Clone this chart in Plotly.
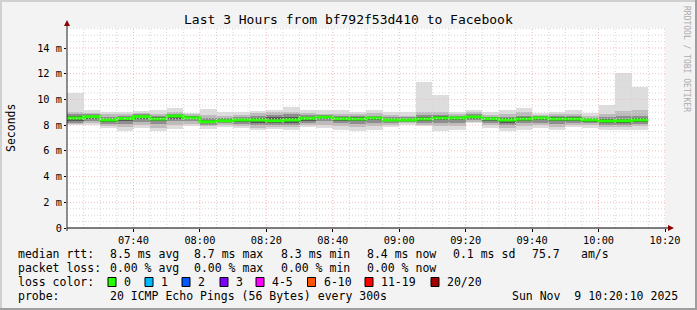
import plotly.graph_objects as go
import pandas as pd

# ---------------- data (ms) ----------------
start_time = "2025-11-09 07:20"
step_minutes = 5
median_rtt = [8.55, 8.65, 8.40, 8.52, 8.66, 8.48, 8.71, 8.58, 8.27, 8.35,
              8.40, 8.40, 8.35, 8.40, 8.53, 8.61, 8.50, 8.48, 8.55, 8.40,
              8.40, 8.48, 8.55, 8.55, 8.63, 8.50, 8.40, 8.48, 8.55, 8.48,
              8.48, 8.40, 8.32, 8.35, 8.40]
ping_max = [10.50, 9.20, 9.05, 9.05, 9.10, 9.20, 9.30, 8.97, 9.26, 9.05,
            9.05, 9.10, 9.20, 9.44, 9.20, 9.20, 9.20, 9.00, 9.15, 9.00,
            9.00, 11.38, 10.34, 9.00, 9.15, 9.00, 9.20, 9.35, 8.92, 9.05,
            9.15, 8.97, 9.57, 12.05, 10.94]
ping_min = [8.00, 8.00, 7.75, 7.55, 7.75, 7.55, 7.70, 7.95, 7.70, 7.85,
            7.75, 7.60, 7.70, 7.60, 7.85, 7.75, 7.60, 7.55, 7.65, 7.85,
            8.00, 7.90, 7.55, 7.60, 8.14, 7.80, 7.55, 7.60, 7.80, 7.60,
            7.85, 7.80, 7.60, 7.60, 7.65]
band2_hi = [9.05, 8.95, 8.85, 8.85, 8.95, 8.90, 9.00, 8.85, 8.80, 8.75,
            8.80, 8.95, 9.00, 9.05, 8.95, 8.90, 8.90, 8.85, 8.95, 8.80,
            8.75, 9.05, 9.00, 8.85, 9.00, 8.80, 8.85, 9.00, 8.80, 8.85,
            8.90, 8.70, 8.90, 9.10, 9.20]
band2_lo = [8.10, 8.15, 7.95, 7.85, 8.00, 7.80, 8.00, 8.10, 7.95, 8.00,
            7.95, 7.80, 7.85, 7.85, 8.00, 8.05, 7.90, 7.85, 7.95, 8.05,
            8.15, 8.05, 7.90, 7.95, 8.25, 8.00, 7.80, 7.90, 8.00, 7.85,
            8.05, 8.00, 7.85, 7.85, 7.90]
band3_hi = [8.85, 8.85, 8.65, 8.70, 8.85, 8.75, 8.85, 8.75, 8.55, 8.55,
            8.60, 8.75, 8.80, 8.85, 8.80, 8.80, 8.70, 8.70, 8.75, 8.60,
            8.60, 8.80, 8.80, 8.70, 8.85, 8.65, 8.65, 8.70, 8.70, 8.70,
            8.70, 8.55, 8.60, 8.75, 8.70]
band3_lo = [8.20, 8.30, 8.10, 8.10, 8.25, 8.10, 8.30, 8.30, 8.05, 8.15,
            8.10, 8.00, 8.00, 8.05, 8.20, 8.30, 8.15, 8.10, 8.20, 8.20,
            8.25, 8.20, 8.15, 8.20, 8.40, 8.20, 8.05, 8.15, 8.20, 8.10,
            8.20, 8.15, 8.05, 8.05, 8.10]
band4_hi = [8.70, 8.75, 8.50, 8.60, 8.75, 8.60, 8.80, 8.68, 8.40, 8.45,
            8.50, 8.55, 8.60, 8.60, 8.65, 8.70, 8.60, 8.60, 8.65, 8.50,
            8.50, 8.60, 8.70, 8.65, 8.75, 8.60, 8.55, 8.60, 8.65, 8.60,
            8.60, 8.48, 8.45, 8.50, 8.55]
band4_lo = [8.35, 8.45, 8.25, 8.35, 8.45, 8.30, 8.50, 8.45, 8.15, 8.25,
            8.25, 8.20, 8.15, 8.20, 8.35, 8.45, 8.35, 8.30, 8.40, 8.30,
            8.32, 8.35, 8.40, 8.42, 8.50, 8.35, 8.20, 8.30, 8.42, 8.30,
            8.35, 8.28, 8.15, 8.20, 8.25]

y_tick_vals = [0, 2, 4, 6, 8, 10, 12, 14]
y_tick_text = ["0", "2 m", "4 m", "6 m", "8 m", "10 m", "12 m", "14 m"]
x_tick_labels = ["07:40", "08:00", "08:20", "08:40", "09:00", "09:20", "09:40", "10:00", "10:20"]

title_text = "Last 3 Hours from bf792f53d410 to Facebook"
stats_rtt = ["8.5 ms avg", "8.7 ms max", "8.3 ms min", "8.4 ms now", "0.1 ms sd", "75.7", "am/s"]
stats_loss = ["0.00 % avg", "0.00 % max", "0.00 % min", "0.00 % now"]
loss_labels = ["0", "1", "2", "3", "4-5", "6-10", "11-19", "20/20"]
loss_colors = ["#26ff00", "#00b8ff", "#0059ff", "#7e00ff", "#ff00ff", "#ff5500", "#ff0000", "#a10000"]
probe_text = "20 ICMP Echo Pings (56 Bytes) every 300s"
date_text = "Sun Nov  9 10:20:10 2025"

# ---------------- geometry ----------------
W, H = 697, 310
L, R, T, B = 67, 665, 28, 228
MONO = "DejaVu Sans Mono"
YMAX = 15.556
GRID_MINOR = "#d6d6d6"
GRID_MAJOR = "#f5b8b8"


def px(x):
    return (x - L) / (R - L)


def py(y):
    return (B - y) / (B - T)


steps = pd.date_range(start_time, periods=len(median_rtt), freq=f"{step_minutes}min")
step_ms = step_minutes * 60 * 1000
x0 = pd.Timestamp(start_time)
x1 = x0 + pd.Timedelta(hours=3)

fig = go.Figure()

layers = [
    (ping_min, ping_max, "#dddddd"),
    (band2_lo, band2_hi, "#bcbcbc"),
    (band3_lo, band3_hi, "#8e8e8e"),
    (band4_lo, band4_hi, "#575757"),
]
for lo, hi, col in layers:
    fig.add_bar(x=steps, y=[h - l for l, h in zip(lo, hi)], base=lo,
                width=step_ms, offset=0,
                marker=dict(color=col, line=dict(width=0)),
                hoverinfo="skip", showlegend=False)

fig.add_scatter(x=list(steps) + [steps[-1] + pd.Timedelta(minutes=step_minutes)],
                y=median_rtt + [median_rtt[-1]], mode="lines",
                line=dict(color="#26ff00", width=3, shape="hv"),
                showlegend=False, hoverinfo="skip")

shapes = []
# grid (drawn over the data like rrdtool)
for t in pd.date_range(x0 + pd.Timedelta(minutes=5), x1, freq="5min"):
    major = t.minute % 20 == 0
    shapes.append(dict(type="line", xref="x", yref="paper", x0=t, x1=t, y0=0, y1=1,
                       line=dict(color=GRID_MAJOR if major else GRID_MINOR, width=1, dash="1px,2px"),
                       layer="above"))
v = 0.5
while v < YMAX:
    major = abs(v / 2 - round(v / 2)) < 1e-9
    shapes.append(dict(type="line", xref="paper", yref="y", x0=0, x1=1, y0=v, y1=v,
                       line=dict(color=GRID_MAJOR if major else GRID_MINOR, width=1, dash="1px,2px"),
                       layer="above"))
    v += 0.5

# axes with arrows
shapes.append(dict(type="line", xref="paper", yref="paper", x0=px(L), x1=px(671), y0=py(B), y1=py(B),
                   line=dict(color="#000000", width=1), layer="above"))
shapes.append(dict(type="line", xref="paper", yref="paper", x0=px(L), x1=px(L), y0=py(B + 3), y1=py(24),
                   line=dict(color="#222222", width=1), layer="above"))
shapes.append(dict(type="path", xref="paper", yref="paper",
                   path=f"M {px(L-3)},{py(26)} L {px(L+3)},{py(26)} L {px(L)},{py(20)} Z",
                   fillcolor="#8b0000", line=dict(width=0), layer="above"))
shapes.append(dict(type="path", xref="paper", yref="paper",
                   path=f"M {px(668)},{py(B-3)} L {px(668)},{py(B+3)} L {px(674)},{py(B)} Z",
                   fillcolor="#8b0000", line=dict(width=0), layer="above"))

# frame shading
shapes.append(dict(type="rect", xref="paper", yref="paper", x0=px(0), x1=px(W), y0=py(0), y1=py(2),
                   fillcolor="#d0d0d0", line=dict(width=0)))
shapes.append(dict(type="rect", xref="paper", yref="paper", x0=px(0), x1=px(2), y0=py(0), y1=py(H),
                   fillcolor="#d0d0d0", line=dict(width=0)))
shapes.append(dict(type="rect", xref="paper", yref="paper", x0=px(0), x1=px(W), y0=py(H - 2), y1=py(H),
                   fillcolor="#9e9e9e", line=dict(width=0)))
shapes.append(dict(type="rect", xref="paper", yref="paper", x0=px(W - 2), x1=px(W), y0=py(0), y1=py(H),
                   fillcolor="#9e9e9e", line=dict(width=0)))

annotations = []


def text(x, y, s, size=11.5, anchor="left", color="#000000", angle=0):
    annotations.append(dict(x=px(x), y=py(y), xref="paper", yref="paper", text=s,
                            showarrow=False, xanchor=anchor, yanchor="middle",
                            textangle=angle,
                            font=dict(family=MONO, size=size, color=color)))


text(348, 19, title_text, size=13, anchor="center")
text(11, 128, "Seconds", size=11.5, anchor="center", angle=-90)
text(687, 59, "RRDTOOL / TOBI OETIKER", size=8, anchor="center", color="#ababab", angle=90)

row_y = [254, 268, 282, 296]
text(16, row_y[0], "median rtt:")
for xpos, s in zip([107.6, 192.4, 279, 365, 451, 530, 579], stats_rtt):
    text(xpos, row_y[0], s)
text(16, row_y[1], "packet loss:")
for xpos, s in zip([107.6, 192.4, 279, 365], stats_loss):
    text(xpos, row_y[1], s)
text(16, row_y[2], "loss color:")
sw_x = [108, 145, 182, 220, 256, 307.5, 365, 431]
for xs, lab, col in zip(sw_x, loss_labels, loss_colors):
    shapes.append(dict(type="rect", xref="paper", yref="paper", x0=px(xs), x1=px(xs + 8),
                       y0=py(286.5), y1=py(277.5), fillcolor=col,
                       line=dict(color="#000000", width=1), layer="above"))
    text(xs + 14, row_y[2], lab)
text(16, row_y[3], "probe:")
text(107.6, row_y[3], probe_text)
text(680, row_y[3], date_text, anchor="right")

fig.update_layout(
    width=W, height=H, autosize=False,
    margin=dict(l=L, r=W - R, t=T, b=H - B, pad=0),
    paper_bgcolor="#f3f3f3", plot_bgcolor="#ffffff",
    barmode="overlay", bargap=0,
    showlegend=False,
    shapes=shapes, annotations=annotations,
    xaxis=dict(type="date", range=[x0, x1], showgrid=False, zeroline=False,
               tickvals=[x0 + pd.Timedelta(minutes=20 * (i + 1)) for i in range(len(x_tick_labels))],
               ticktext=x_tick_labels,
               ticks="outside", ticklen=3, tickcolor="#000000",
               tickfont=dict(family=MONO, size=10.3, color="#000000"),
               showline=False, fixedrange=True),
    yaxis=dict(range=[0, YMAX], showgrid=False, zeroline=False,
               tickvals=y_tick_vals, ticktext=y_tick_text,
               ticks="outside", ticklen=2, tickcolor="#000000",
               tickfont=dict(family=MONO, size=10.3, color="#000000"),
               showline=False, fixedrange=True),
)

fig.write_html("out.html", config={"displayModeBar": False})
